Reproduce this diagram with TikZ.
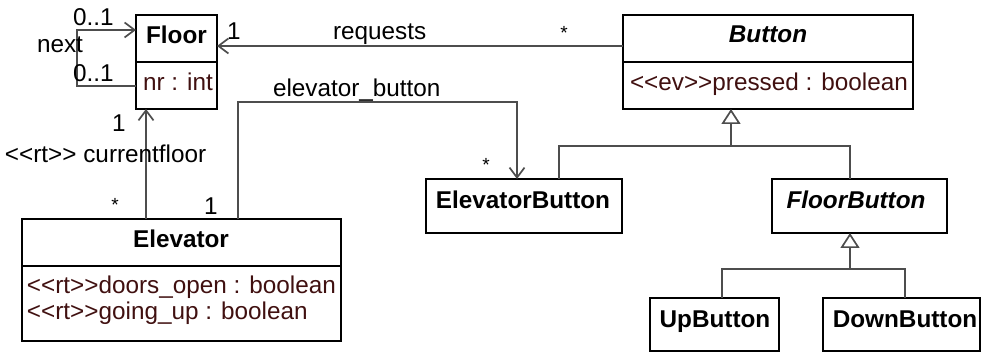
\documentclass[tikz,border=0pt]{standalone}
\usepackage{fontspec}
\setmainfont{Liberation Sans}[Ligatures=TeXOff]
\usetikzlibrary{arrows.meta}
\definecolor{linegray}{RGB}{77,77,77}
\definecolor{attrcol}{RGB}{64,16,16}
\tikzset{
  classbox/.style={draw=black, line width=1.8pt, rectangle, inner sep=0pt, outer sep=0pt, anchor=north west},
  sep/.style={draw=black, line width=1.8pt},
  txt/.style={inner sep=0pt, outer sep=0pt, font=\fontsize{24.3}{28}\selectfont},
  star/.style={inner sep=0pt, outer sep=0pt, font=\fontsize{19}{22}\selectfont, anchor=base},
  attr/.style={txt, text=attrcol, anchor=base west},
  assoc/.style={draw=linegray, line width=1.7pt},
  nav/.style={assoc, -{Straight Barb[length=10pt,width=15pt]}},
  gen/.style={assoc, -{Triangle[length=15pt,width=19pt,fill=white]}}
}
\begin{document}
\begin{tikzpicture}[x=1pt,y=-1pt]
\useasboundingbox (0,0) rectangle (982,352);

% class boxes
\node[classbox, minimum width=81pt,  minimum height=94pt]  (floor)    at (136,15)  {};
\node[classbox, minimum width=290pt, minimum height=94pt]  (button)   at (623,15)  {};
\node[classbox, minimum width=319pt, minimum height=122pt] (elevator) at (22,219)  {};
\node[classbox, minimum width=196pt, minimum height=54pt]  (ebtn)     at (426,179) {};
\node[classbox, minimum width=175pt, minimum height=54pt]  (fbtn)     at (772,179) {};
\node[classbox, minimum width=129pt, minimum height=53pt]  (upbtn)    at (650,298) {};
\node[classbox, minimum width=157pt, minimum height=53pt]  (downbtn)  at (823,298) {};

% compartment separators
\coordinate (fdiv) at (0,62);
\coordinate (ediv) at (0,266);
\draw[sep] (floor.west |- fdiv) -- (floor.east |- fdiv);
\draw[sep] (button.west |- fdiv) -- (button.east |- fdiv);
\draw[sep] (elevator.west |- ediv) -- (elevator.east |- ediv);

% class names and attributes
\node[txt, anchor=base] (floorname) at (176.5,44) {\bfseries Floor};
\node[attr] (floorattr) at (143,91) {nr : int};
\node[txt, anchor=base] (buttonname) at (768,43) {\bfseries\itshape Button};
\node[attr] (buttonattr) at (630,91) {<<ev>>pressed : boolean};
\node[txt, anchor=base] (elevname) at (181,248) {\bfseries Elevator};
\node[attr] (elevattra) at (27,294) {<<rt>>doors\_open : boolean};
\node[attr] (elevattrb) at (27,320) {<<rt>>going\_up : boolean};
\node[txt, anchor=base] (ebtnname) at (523,209) {\bfseries ElevatorButton};
\node[txt, anchor=base] (fbtnname) at (856,209) {\bfseries\itshape FloorButton};
\node[txt, anchor=base] (upname) at (715,327) {\bfseries UpButton};
\node[txt, anchor=base] (downname) at (905,327) {\bfseries DownButton};

% routing points
\coordinate (nextlow)  at (0,86);
\coordinate (nexthigh) at (0,30);
\coordinate (nextbend) at (77,0);
\coordinate (reqy)     at (0,46);
\coordinate (curx)     at (146,0);
\coordinate (ebx)      at (238,0);
\coordinate (eby)      at (0,102);
\coordinate (ebtnx)    at (517,0);
\coordinate (g1x)      at (559,0);
\coordinate (g2x)      at (850,0);
\coordinate (gjoin)    at (731,146);
\coordinate (h1x)      at (722,0);
\coordinate (h2x)      at (905,0);
\coordinate (hjoin)    at (850,269);

% associations
\draw[nav] (floor.west |- nextlow) -| (nextbend |- nexthigh) -- (floor.west |- nexthigh);
\draw[nav] (button.west |- reqy) -- (floor.east |- reqy);
\draw[nav] (elevator.north -| curx) -- (floor.south -| curx);
\draw[nav] (elevator.north -| ebx) -- (ebx |- eby) -| (ebtn.north -| ebtnx);

% generalizations
\draw[assoc] (ebtn.north -| g1x) |- (gjoin) -| (fbtn.north -| g2x);
\draw[gen] (gjoin) -- (button.south -| gjoin);
\draw[assoc] (upbtn.north -| h1x) |- (hjoin) -| (downbtn.north -| h2x);
\draw[gen] (hjoin) -- (fbtn.south -| hjoin);

% association labels
\node[txt, anchor=base west] (m1) at (73,26) {0..1};
\node[txt, anchor=base west] (m2) at (73,82) {0..1};
\node[txt, anchor=base west] (lnext) at (37,53) {next};
\node[txt, anchor=base west] (m3) at (227,40) {1};
\node[txt, anchor=base west] (lreq) at (333,40) {requests};
\node[star] (m4) at (564,40) {*};
\node[txt, anchor=base west] (leb) at (273,97) {elevator\_button};
\node[star] (m5) at (486,172) {*};
\node[txt, anchor=base west] (m6) at (112,132) {1};
\node[txt, anchor=base west] (lcur) at (5,163) {<<rt>> currentfloor};
\node[star] (m7) at (115,212) {*};
\node[txt, anchor=base west] (m8) at (204,215) {1};
\end{tikzpicture}
\end{document}
